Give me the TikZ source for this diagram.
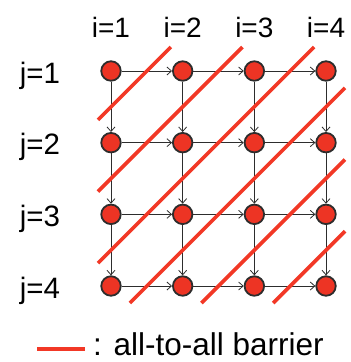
\documentclass[tikz,border=0pt]{standalone}
\usepackage{fontspec}
\setmainfont{Liberation Sans}
\usetikzlibrary{arrows.meta}
\definecolor{nodered}{RGB}{237,52,36}
\definecolor{barred}{RGB}{242,56,38}
\definecolor{edgegray}{RGB}{45,45,45}
\tikzset{
  proc/.style={circle,draw=edgegray,fill=nodered,line width=1.8pt,minimum size=19.5pt,inner sep=0pt},
  dep/.style={draw=edgegray,line width=0.8pt,-{Straight Barb[length=4.5pt,width=8pt]}},
  barrier/.style={draw=barred,line width=3.6pt},
  lab/.style={anchor=base,font=\fontsize{28}{32}\selectfont,inner sep=0pt}
}
\begin{document}
\begin{tikzpicture}[x=1pt,y=-1pt]
\useasboundingbox (0,0) rectangle (351,362);
% processes
\foreach \i in {1,...,4}
  \foreach \j in {1,...,4}
    \node[proc] (n\i\j) at ({111+71.67*(\i-1)},{71+71.67*(\j-1)}) {};
% dependencies
\foreach \i/\k in {1/2,2/3,3/4}
  \foreach \j in {1,...,4} {
    \draw[dep] (n\i\j) -- (n\k\j);
    \draw[dep] (n\j\i) -- (n\j\k);
  }
% barriers
\draw[barrier] (98,119.8) -- (170.8,47);
\draw[barrier] (98,191.5) -- (242.5,47);
\draw[barrier] (98,263.2) -- (314.2,47);
\draw[barrier] (129.8,303) -- (345,87.8);
\draw[barrier] (201.5,303) -- (345,159.5);
\draw[barrier] (273.2,303) -- (345,231.2);
% labels
\foreach \i in {1,...,4} {
  \node[lab] (col\i) at ({111+71.67*(\i-1)},37) {i=\i};
  \node[lab,font=\fontsize{29.5}{34}\selectfont] (row\i) at (40,{83+71.67*(\i-1)}) {j=\i};
}
\coordinate (legstart) at (37,349);
\coordinate (legend) at (85,349);
\draw[barrier] (legstart) -- (legend);
\node[lab,anchor=base west,font=\fontsize{31.5}{36}\selectfont] (legtxt) at (93,355) {: all-to-all barrier};
\end{tikzpicture}
\end{document}
